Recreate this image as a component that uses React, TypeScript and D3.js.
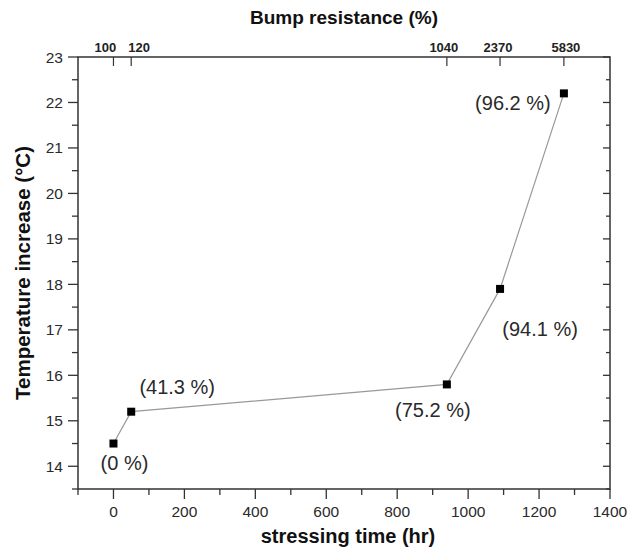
import React, { useEffect, useRef } from 'react';
import * as d3 from 'd3';

// stressing time (hr) and temperature increase (°C)
const stressHours = [0, 50, 940, 1090, 1270];
const tempIncrease = [14.5, 15.2, 15.8, 17.9, 22.2];
// bump resistance change at each point
const resistanceTicks = ['100', '120', '1040', '2370', '5830'];
const percentLabels = ['(0 %)', '(41.3 %)', '(75.2 %)', '(94.1 %)', '(96.2 %)'];

const xTicks = [0, 200, 400, 600, 800, 1000, 1200, 1400];
const yTicks = [14, 15, 16, 17, 18, 19, 20, 21, 22, 23];

const App: React.FC = () => {
  const svgRef = useRef<SVGSVGElement>(null);

  useEffect(() => {
    if (!svgRef.current) return;
    const svg = d3.select(svgRef.current);
    svg.selectAll('*').remove();

    const left = 78, right = 610, top = 57, bottom = 489;
    const font = 'Liberation Sans, Arial, sans-serif';
    const axisColor = '#333';
    const labelColor = '#2a2a2a';

    const x = d3.scaleLinear().domain([-100, 1400]).range([left, right]);
    const y = d3.scaleLinear().domain([13.5, 23]).range([bottom, top]);

    const g = svg.append('g');

    // frame
    g.append('rect')
      .attr('x', left).attr('y', top)
      .attr('width', right - left).attr('height', bottom - top)
      .attr('fill', 'none').attr('stroke', axisColor).attr('stroke-width', 1.5);

    // bottom axis: majors + minors outward
    const xMinor = d3.range(-100, 1401, 100);
    g.selectAll('.xtick')
      .data(xMinor)
      .enter()
      .append('line')
      .attr('x1', d => x(d)).attr('x2', d => x(d))
      .attr('y1', bottom).attr('y2', d => bottom + (d % 200 === 0 ? 10 : 6))
      .attr('stroke', axisColor).attr('stroke-width', 1.3);

    g.selectAll('.xlabel')
      .data(xTicks)
      .enter()
      .append('text')
      .attr('x', d => x(d)).attr('y', bottom + 28)
      .attr('text-anchor', 'middle')
      .attr('font-family', font).attr('font-size', 15.5)
      .attr('fill', labelColor)
      .text(d => d);

    // left axis outward, right axis inward
    const yMinor = d3.range(13.5, 23.01, 0.5);
    yMinor.forEach(v => {
      const major = Math.abs(v - Math.round(v)) < 1e-6;
      g.append('line')
        .attr('x1', left - (major ? 10 : 6)).attr('x2', left)
        .attr('y1', y(v)).attr('y2', y(v))
        .attr('stroke', axisColor).attr('stroke-width', 1.3);
      g.append('line')
        .attr('x1', right - (major ? 7 : 4)).attr('x2', right)
        .attr('y1', y(v)).attr('y2', y(v))
        .attr('stroke', axisColor).attr('stroke-width', 1.3);
    });

    g.selectAll('.ylabel')
      .data(yTicks)
      .enter()
      .append('text')
      .attr('x', left - 15).attr('y', d => y(d) + 5.5)
      .attr('text-anchor', 'end')
      .attr('font-family', font).attr('font-size', 15.5)
      .attr('fill', labelColor)
      .text(d => d);

    // top axis: resistance values at each stressing time
    const topShift = [-8, 8, -3, -2, 2];
    stressHours.forEach((h, i) => {
      g.append('line')
        .attr('x1', x(h)).attr('x2', x(h))
        .attr('y1', top).attr('y2', top + 9)
        .attr('stroke', axisColor).attr('stroke-width', 1.2);
      g.append('text')
        .attr('x', x(h) + topShift[i]).attr('y', top - 5)
        .attr('text-anchor', 'middle')
        .attr('font-family', font).attr('font-size', 13)
        .attr('font-weight', 'bold')
        .attr('fill', '#222')
        .text(resistanceTicks[i]);
    });

    // line + markers
    const pts = stressHours.map((h, i) => [h, tempIncrease[i]] as [number, number]);
    g.append('path')
      .attr('d', d3.line<[number, number]>().x(d => x(d[0])).y(d => y(d[1]))(pts))
      .attr('fill', 'none').attr('stroke', '#999').attr('stroke-width', 1.2);

    g.selectAll('.pt')
      .data(pts)
      .enter()
      .append('rect')
      .attr('x', d => x(d[0]) - 4).attr('y', d => y(d[1]) - 4)
      .attr('width', 8).attr('height', 8)
      .attr('fill', '#000');

    // percentage annotations (offsets in px from each point)
    const offsets = [[11, 26], [46, -18], [-14, 33], [40, 47], [-51, 17]];
    pts.forEach((d, i) => {
      g.append('text')
        .attr('x', x(d[0]) + offsets[i][0]).attr('y', y(d[1]) + offsets[i][1])
        .attr('text-anchor', 'middle')
        .attr('font-family', font).attr('font-size', 20)
        .attr('fill', labelColor)
        .text(percentLabels[i]);
    });

    // axis titles
    g.append('text')
      .attr('x', (left + right) / 2 + 4).attr('y', 543)
      .attr('text-anchor', 'middle')
      .attr('font-family', font).attr('font-size', 20).attr('font-weight', 'bold')
      .attr('fill', '#111')
      .text('stressing time (hr)');

    g.append('text')
      .attr('x', (left + right) / 2).attr('y', 24)
      .attr('text-anchor', 'middle')
      .attr('font-family', font).attr('font-size', 19).attr('font-weight', 'bold')
      .attr('fill', '#111')
      .text('Bump resistance (%)');

    g.append('text')
      .attr('transform', `translate(30,${(top + bottom) / 2}) rotate(-90)`)
      .attr('text-anchor', 'middle')
      .attr('font-family', font).attr('font-size', 20.5).attr('font-weight', 'bold')
      .attr('fill', '#111')
      .text('Temperature increase (°C)');
  }, []);

  return (
    <svg
      ref={svgRef}
      width={630}
      height={555}
      style={{ position: 'absolute', left: 0, top: 0, background: '#fff' }}
    />
  );
};

export default App;
